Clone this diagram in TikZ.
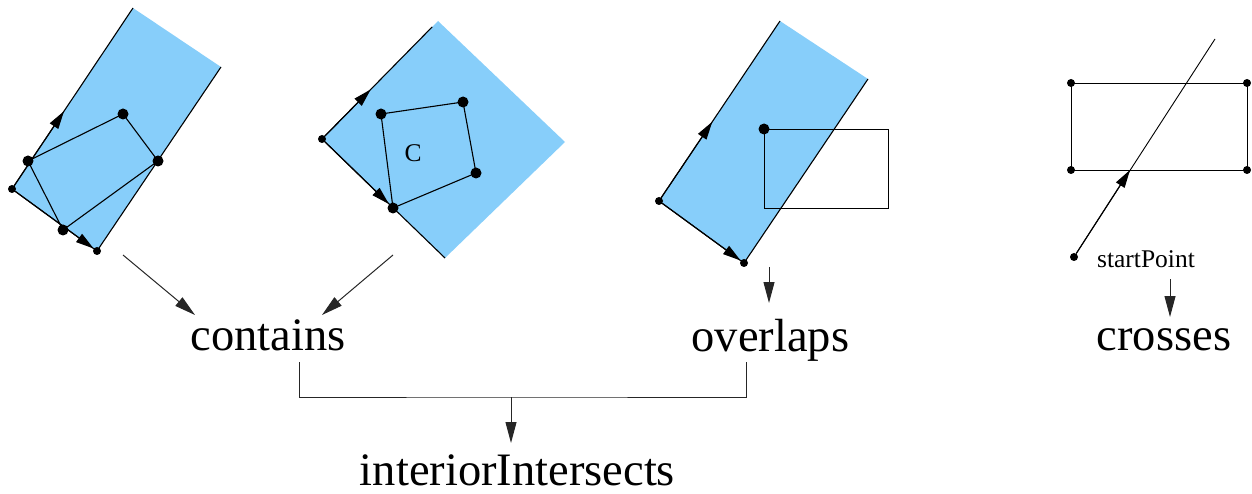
\documentclass[tikz,border=0pt]{standalone}
\usepackage{fontspec}
\setmainfont{Liberation Serif}
\usetikzlibrary{arrows.meta,calc}
\definecolor{skyfill}{RGB}{135,206,250}
\begin{document}
\begin{tikzpicture}[x=1pt,y=-1pt,
  edge/.style={line width=1.1pt, line join=round},
  thinedge/.style={line width=0.9pt},
  vec/.style={edge, -{Triangle[length=18pt,width=10pt]}},
  conn/.style={line width=1pt, black!85},
  connarr/.style={conn, -{Triangle[length=21pt,width=11pt]}},
  bigdot/.style={circle, fill, inner sep=0pt, minimum size=11pt},
  smalldot/.style={circle, fill, inner sep=0pt, minimum size=8pt},
  lbl/.style={inner sep=0pt, anchor=base, font=\fontsize{46.5}{50}\selectfont},
  smalllbl/.style={inner sep=0pt, anchor=base, font=\fontsize{25.5}{28}\selectfont},
  region/.style={fill=skyfill}]
\path[use as bounding box] (0,0) rectangle (1252,494);

% ---------- contains: polygon inside a rectangle ----------
\coordinate (a1) at (12,189);
\coordinate (a2) at (133,8);
\coordinate (a3) at (221,67);
\coordinate (a4) at (97,251);
\fill[region] (a1) -- (a2) -- (a3) -- (a4) -- cycle;
\draw[edge] (a2) -- (a1) -- (a4) -- (a3);
\node[smalldot] (pa1) at (a1) {};
\node[smalldot] (pa4) at (a4) {};
\coordinate (a1h) at ($(a1)!0.43!(a2)$);
\draw[vec] (pa1) -- (a1h);
\draw[vec] (pa1) -- (pa4);
\coordinate (q1) at (28,161);
\coordinate (q2) at (123,114);
\coordinate (q3) at (158,161);
\coordinate (q4) at (63,230);
\draw[edge] (q1) -- (q2) -- (q3) -- (q4) -- cycle;
\foreach \p in {q1,q2,q3,q4} \node[bigdot] (d\p) at (\p) {};

% ---------- contains: polygon C inside a square ----------
\coordinate (b1) at (322,139);
\coordinate (b2) at (438,21);
\coordinate (b3) at (565,142);
\coordinate (b4) at (445,258);
\fill[region] (b1) -- (b2) -- (b3) -- (b4) -- cycle;
\coordinate (b2e) at ($(b1)!0.95!(b2)$);
\draw[edge] (b2e) -- (b1) -- (b4);
\node[smalldot] (pb1) at (b1) {};
\coordinate (c1) at (381,114);
\coordinate (c2) at (463,102);
\coordinate (c3) at (476,173);
\coordinate (c4) at (393,208);
\draw[edge] (c1) -- (c2) -- (c3) -- (c4) -- cycle;
\foreach \p in {c1,c2,c3,c4} \node[bigdot] (d\p) at (\p) {};
\coordinate (b1h) at ($(b1)!0.42!(b2)$);
\draw[vec] (pb1) -- (b1h);
\draw[vec] (pb1) -- (dc4);
\node[smalllbl] (clabel) at (413,161.5) {C};

% ---------- overlaps ----------
\coordinate (e1) at (659,201);
\coordinate (e2) at (780,21);
\coordinate (e3) at (868,79);
\coordinate (e4) at (744,263);
\fill[region] (e1) -- (e2) -- (e3) -- (e4) -- cycle;
\draw[edge] (e2) -- (e1) -- (e4) -- (e3);
\node[smalldot] (pe1) at (e1) {};
\node[smalldot] (pe4) at (e4) {};
\coordinate (e1h) at ($(e1)!0.44!(e2)$);
\draw[vec] (pe1) -- (e1h);
\draw[vec] (pe1) -- (pe4);
\draw[thinedge] (764,129) rectangle (888,208);
\node[bigdot] (ecorner) at (764,129) {};

% ---------- crosses ----------
\coordinate (r1) at (1071,83);
\coordinate (r2) at (1247,83);
\coordinate (r3) at (1247,170);
\coordinate (r4) at (1071,170);
\draw[thinedge] (r1) -- (r2) -- (r3) -- (r4) -- cycle;
\foreach \p in {r1,r2,r3,r4} \node[smalldot] (d\p) at (\p) {};
\coordinate (lend) at (1215,39);
\node[smalldot] (start) at (1074,257) {};
\coordinate (xing) at (1130,170);
\draw[thinedge] (start) -- (lend);
\draw[vec] (start) -- (xing);
\node[smalllbl] (startlbl) at (1146,267) {startPoint};

% ---------- labels ----------
\node[lbl] (contains) at (268,350) {contains};
\node[lbl] (overlaps) at (770.5,351) {overlaps};
\node[lbl] (crosses) at (1164,350) {crosses};
\node[lbl] (inter) at (517.5,485) {interiorIntersects};

% ---------- connectors ----------
\coordinate (f1) at (123,255);
\coordinate (k1) at (195,315);
\coordinate (f2) at (393,255);
\coordinate (k2) at (322,315);
\coordinate (f3) at (769,267);
\coordinate (k3) at (769,303);
\coordinate (f4) at (1170,279);
\coordinate (k4) at (1170,317);
\draw[connarr] (f1) -- (k1);
\draw[connarr] (f2) -- (k2);
\draw[connarr] (f3) -- (k3);
\draw[connarr] (f4) -- (k4);

\coordinate (cdrop) at (299,362);
\coordinate (odrop) at (746,362);
\coordinate (join) at (511,397);
\coordinate (k5) at (511,443);
\draw[conn] (cdrop) |- (join) -| (odrop);
\draw[connarr] (join) -- (k5);
\end{tikzpicture}
\end{document}
